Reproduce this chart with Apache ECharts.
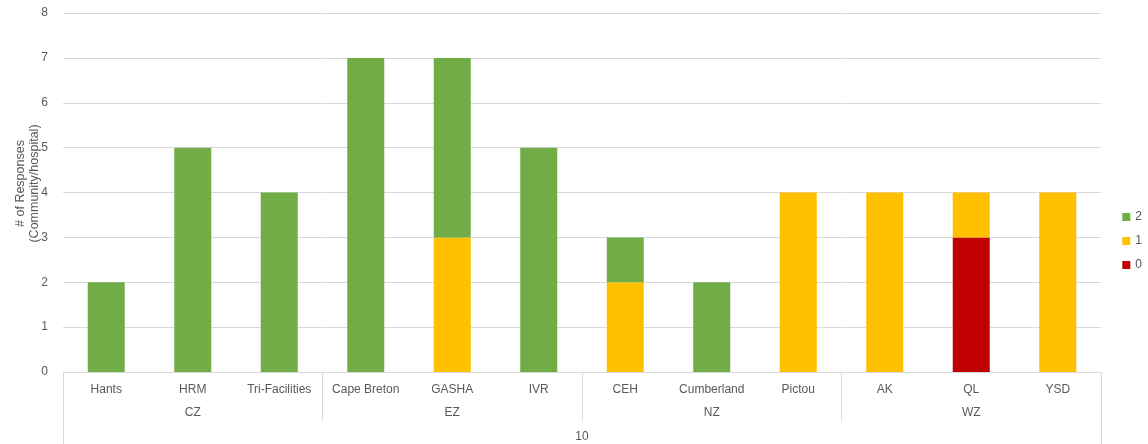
<!DOCTYPE html>
<html>
<head>
<meta charset="utf-8">
<script src="https://cdn.jsdelivr.net/npm/echarts@6/dist/echarts.min.js"></script>
<style>
  html, body { margin: 0; padding: 0; background: #ffffff; }
  #chart { width: 1148px; height: 444px; }
</style>
</head>
<body>
<div id="chart"></div>
<script>
// Sites grouped by zone (three sites per zone), with a top-level group label
const sites = ['Hants', 'HRM', 'Tri-Facilities', 'Cape Breton', 'GASHA', 'IVR',
               'CEH', 'Cumberland', 'Pictou', 'AK', 'QL', 'YSD'];
const zones = ['CZ', 'EZ', 'NZ', 'WZ'];
const groupLabel = ['10'];

// Number of responses per score
const score2 = [2, 5, 4, 7, 4, 5, 1, 2, 0, 0, 0, 0];
const score1 = [0, 0, 0, 0, 3, 0, 2, 0, 4, 4, 1, 4];
const score0 = [0, 0, 0, 0, 0, 0, 0, 0, 0, 0, 3, 0];

const yTicks = { min: 0, max: 8, interval: 1 };

const textColor = '#595959';
const lineColor = '#D9D9D9';
const font = 'Liberation Sans';

const chart = echarts.init(document.getElementById('chart'), null, { renderer: 'canvas' });

const baseAxis = {
  type: 'category',
  position: 'bottom',
  boundaryGap: true,
  splitLine: { show: false }
};

chart.setOption({
  animation: false,
  textStyle: { fontFamily: font },
  grid: { left: 63, right: 47, top: 13, bottom: 72, containLabel: false, outerBoundsMode: 'none' },
  legend: {
    orient: 'vertical',
    right: 1,
    top: 206,
    itemWidth: 8,
    itemHeight: 8,
    itemGap: 12,
    icon: 'rect',
    data: ['2', '1', '0'],
    textStyle: { color: textColor, fontSize: 12, fontFamily: font }
  },
  xAxis: [
    Object.assign({}, baseAxis, {
      data: sites,
      axisLine: { show: true, lineStyle: { color: lineColor, width: 1 } },
      axisTick: { show: false },
      axisLabel: { interval: 0, margin: 12, color: textColor, fontSize: 12, fontFamily: font }
    }),
    Object.assign({}, baseAxis, {
      data: zones,
      axisLine: { show: false },
      axisTick: { show: true, length: 49, interval: 0, lineStyle: { color: lineColor } },
      axisLabel: { interval: 0, margin: 35, color: textColor, fontSize: 12, fontFamily: font }
    }),
    Object.assign({}, baseAxis, {
      data: groupLabel,
      axisLine: { show: false },
      axisTick: { show: true, length: 72, lineStyle: { color: lineColor } },
      axisLabel: { interval: 0, margin: 59, color: textColor, fontSize: 12, fontFamily: font }
    })
  ],
  yAxis: {
    type: 'value',
    min: yTicks.min,
    max: yTicks.max,
    interval: yTicks.interval,
    name: '# of Responses\n(Community/hospital)',
    nameLocation: 'middle',
    nameGap: 21,
    nameMoveOverlap: false,
    nameRotate: 90,
    nameTextStyle: { color: textColor, fontSize: 12.5, fontFamily: font, lineHeight: 14, padding: [0, 0, 0, 18] },
    axisLine: { show: false },
    axisTick: { show: false },
    axisLabel: { color: textColor, fontSize: 12, margin: 15, fontFamily: font },
    splitLine: { lineStyle: { color: lineColor, width: 1 } }
  },
  series: [
    { name: '0', type: 'bar', stack: 'score', data: score0, barWidth: 37,
      itemStyle: { color: '#C00000' } },
    { name: '1', type: 'bar', stack: 'score', data: score1, barWidth: 37,
      itemStyle: { color: '#FFC000' } },
    { name: '2', type: 'bar', stack: 'score', data: score2, barWidth: 37,
      itemStyle: { color: '#70AD47' } }
  ]
});
</script>
</body>
</html>
